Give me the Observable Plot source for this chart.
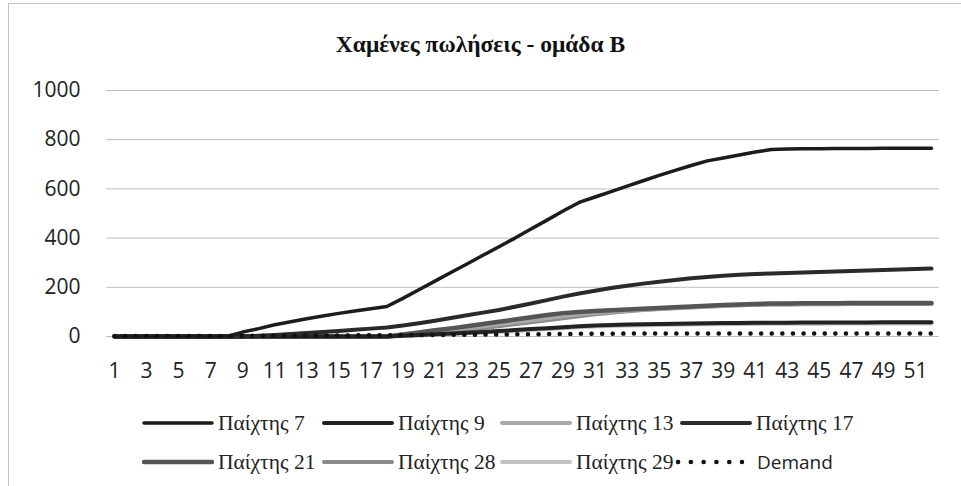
<!DOCTYPE html>
<html>
<head>
<meta charset="utf-8">
<script src="https://cdn.jsdelivr.net/npm/d3@7"></script>
<script src="https://cdn.jsdelivr.net/npm/@observablehq/plot@0.6"></script>
<style>
  html, body { margin: 0; padding: 0; background: #fff; }
  #wrap { position: relative; width: 961px; height: 486px; overflow: hidden; background: #fff; }
  #frame { position: absolute; left: 8px; top: 3px; right: -2px; bottom: -2px; border-top: 1px solid #c4c4c4; border-left: 1px solid #c4c4c4; }
  #title { position: absolute; left: 0; width: 961px; top: 31px; text-align: center; font-family: "Liberation Serif", "Times New Roman", serif; font-weight: bold; font-size: 23.5px; color: #111; }
  #chart { position: absolute; left: 0; top: 70px; }
  .leg { position: absolute; display: flex; align-items: center; height: 24px; }
  .leg span { font-family: "Liberation Serif", serif; font-size: 21.5px; color: #222; margin-left: 4px; white-space: nowrap; }
  .leg span.sans { font-family: "Open Sans", sans-serif; font-size: 19px; margin-left: 5px; }
</style>
</head>
<body>
<div id="wrap">
  <div id="frame"></div>
  <div id="title">Χαμένες πωλήσεις - ομάδα Β</div>
  <div id="chart"></div>
  <div id="legend"></div>
</div>
<script>
// Weeks (categories) and tick labels
const weeks = d3.range(1, 53);
const xTicks = d3.range(1, 52, 2);
const yTicks = [0, 200, 400, 600, 800, 1000];

// Series values (cumulative lost sales)
const p7 = [0,0,0,0,0,0,0,0,
  18,32,48,60,72,83,94,104,113,122,
  155,190,225,260,295,330,365,400,437,473,510,545,
  567,589,611,633,655,675,695,714,726,738,750,760,
  762,763,763,764,764,764,765,765,765,765];
const p9 = [0,0,0,0,0,0,0,0,0,0,0,0,0,0,0,0,0,0,
  3,6,9,12,15,18,22,26,30,34,38,42,
  45,47,49,50,51,52,53,54,55,55,56,56,
  56,57,57,57,57,57,58,58,58,58];
const p13 = [0,0,0,0,0,0,0,0,0,0,0,0,0,0,0,0,0,0,
  6,13,20,27,34,42,50,58,66,74,82,90,
  96,101,105,109,112,115,118,121,124,127,129,131,
  131,132,132,132,133,133,133,133,133,133];
const p17 = [0,0,0,0,0,0,0,0,0,
  3,6,10,14,18,22,27,32,37,
  45,54,64,75,86,97,108,121,134,148,162,175,
  186,197,206,215,223,230,237,242,247,251,254,256,
  258,260,262,264,266,268,270,272,274,276];
const p21 = [0,0,0,0,0,0,0,0,0,0,0,0,0,0,0,0,0,0,
  8,16,25,33,42,51,60,69,78,87,95,100,
  104,107,110,113,116,119,122,125,128,130,132,134,
  134,135,135,135,136,136,136,136,136,136];
const p28 = [0,0,0,0,0,0,0,0,0,0,0,0,0,0,0,0,0,0,
  4,9,15,21,28,35,42,50,58,66,74,82,
  90,97,103,108,112,116,119,122,125,127,129,130,
  130,131,131,131,132,132,132,132,132,132];
const p29 = [0,0,0,0,0,0,0,0,0,0,0,0,0,0,0,0,0,0,
  2,4,7,10,13,16,19,22,26,30,34,38,
  41,43,45,46,47,48,49,50,50,51,51,52,
  52,52,52,53,53,53,53,53,53,53];
const demand = [2,2,2,2,2,2,2,2,3,3,
  3,3,4,4,4,5,5,5,6,6,
  6,7,7,8,8,9,9,10,10,11,
  11,11,12,12,12,12,12,12,12,12,
  12,12,12,12,12,12,12,12,12,12,12,12];

const seriesNames = ["Παίχτης 7","Παίχτης 9","Παίχτης 13","Παίχτης 17","Παίχτης 21","Παίχτης 28","Παίχτης 29","Demand"];
const seriesValues = [p7, p9, p13, p17, p21, p28, p29, demand];
const seriesColors = ["#1c1c1c","#222222","#a8a8a8","#2a2a2a","#555555","#8a8a8a","#c2c2c2","#111111"];
const seriesWidths = [3.5, 4, 4, 4, 4.5, 4, 4, 4.5];
const drawOrder = [6, 5, 2, 4, 1, 3, 0, 7];

const rows = [];
seriesNames.forEach((name, i) => {
  seriesValues[i].forEach((v, j) => rows.push({series: name, week: weeks[j], value: v}));
});

const lineMarks = drawOrder.map(i => {
  const name = seriesNames[i];
  const isDemand = name === "Demand";
  return Plot.line(rows.filter(d => d.series === name), {
    x: "week", y: "value",
    stroke: seriesColors[i],
    strokeWidth: seriesWidths[i],
    strokeLinecap: "round",
    strokeLinejoin: "round",
    strokeDasharray: isDemand ? "0.1 10.5" : null
  });
});

const chart = Plot.plot({
  width: 961,
  height: 320,
  marginTop: 20,
  marginBottom: 54,
  marginLeft: 106,
  marginRight: 22,
  style: {fontFamily: "'Open Sans', sans-serif", fontSize: "21px", color: "#222", background: "transparent"},
  x: {domain: [0.5, 52.5], ticks: xTicks, tickFormat: d => String(d), tickSize: 0, tickPadding: 27, label: null},
  y: {domain: [0, 1000], ticks: yTicks, tickFormat: d => String(d), tickSize: 0, tickPadding: 26, label: null},
  marks: [
    Plot.ruleY(yTicks, {stroke: "#bdbdbd", strokeWidth: 1}),
    ...lineMarks
  ]
});
document.getElementById("chart").appendChild(chart);

// Legend below the plot
const legendPos = [
  [142, 411], [322, 411], [500, 411], [680, 411],
  [142, 450], [322, 450], [500, 450], [676, 450]
];
const legend = document.getElementById("legend");
seriesNames.forEach((name, i) => {
  const div = document.createElement("div");
  div.className = "leg";
  div.style.left = legendPos[i][0] + "px";
  div.style.top = legendPos[i][1] + "px";
  const isDemand = name === "Demand";
  const svg = d3.create("svg").attr("width", isDemand ? 76 : 72).attr("height", 24);
  svg.append("line")
    .attr("x1", isDemand ? 2 : 2).attr("x2", isDemand ? 66 : 70)
    .attr("y1", 12).attr("y2", 12)
    .attr("stroke", seriesColors[i])
    .attr("stroke-width", isDemand ? 4.5 : seriesWidths[i])
    .attr("stroke-linecap", "round")
    .attr("stroke-dasharray", isDemand ? "0.1 12.7" : null);
  div.appendChild(svg.node());
  const span = document.createElement("span");
  span.textContent = name;
  if (isDemand) span.className = "sans";
  div.appendChild(span);
  legend.appendChild(div);
});
</script>
</body>
</html>
